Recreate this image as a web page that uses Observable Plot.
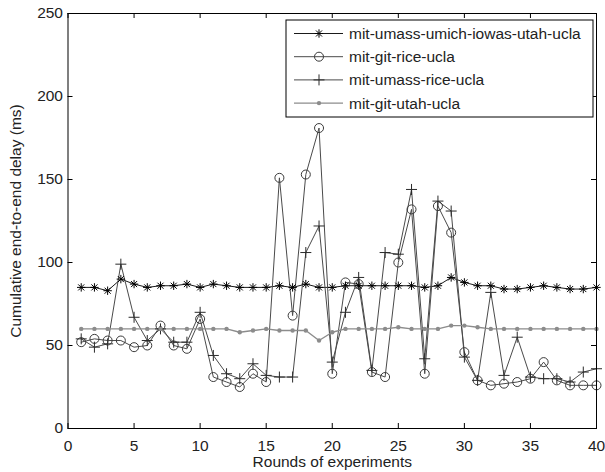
<!DOCTYPE html>
<html><head><meta charset="utf-8">
<script src="https://cdn.jsdelivr.net/npm/d3@7"></script>
<script src="https://cdn.jsdelivr.net/npm/@observablehq/plot@0.6"></script>
<style>
body{margin:0;background:#fff;}
#chart{width:605px;height:472px;}
</style></head><body><div id="chart"></div>
<script>
const rounds = d3.range(1, 41);
const seriesNames = ["mit-umass-umich-iowas-utah-ucla", "mit-git-rice-ucla", "mit-umass-rice-ucla", "mit-git-utah-ucla"];
const valsA = [85,85,83,90,87,85,86,86,87,85,87,86,85,85,85,86,85,87,85,85,86,86,86,86,86,86,85,86,91,88,86,86,84,84,85,86,85,84,84,85];
const valsB = [52,54,53,53,49,50,62,50,48,66,31,28,25,33,28,151,68,153,181,33,88,87,34,31,100,132,33,134,118,46,29,26,27,28,30,40,29,26,26,26];
const valsC = [54,49,51,99,67,53,60,52,52,70,44,33,30,39,32,31,31,106,122,40,70,91,35,106,105,144,42,137,131,43,29,82,32,55,31,30,30,28,34,36];
const valsD = [60,60,60,60,60,60,60,60,60,60,60,60,58,59,60,59,59,59,53,58,60,60,60,60,61,60,60,60,62,62,61,60,60,60,60,60,60,60,60,60];
const xTicks = [0,5,10,15,20,25,30,35,40];
const yTicks = [0,50,100,150,200,250];
const xLabel = "Rounds of experiments";
const yLabel = "Cumulative end-to-end delay (ms)";

const allVals = [valsA, valsB, valsC, valsD];
const rows = allVals.flatMap((vals, s) => vals.map((v, i) => ({series: seriesNames[s], round: rounds[i], value: v})));
const bySeries = name => rows.filter(d => d.series === name);

const W = 605, H = 472, mL = 67.5, mR = 9, mT = 13, mB = 44;
const innerW = W - mL - mR, innerH = H - mT - mB;
const font = "'Liberation Sans', Arial, sans-serif";
const fs = 15.5;

// marker symbols (pixel sizes are styles)
const plusSym = {draw(c){const r=5.5; c.moveTo(-r,0); c.lineTo(r,0); c.moveTo(0,-r); c.lineTo(0,r);}};
const starSym = {draw(c){const r=4.2, q=r*0.72; c.moveTo(-r,0); c.lineTo(r,0); c.moveTo(0,-r); c.lineTo(0,r); c.moveTo(-q,-q); c.lineTo(q,q); c.moveTo(-q,q); c.lineTo(q,-q);}};

const styles = [
  {stroke:"#1a1a1a", lw:1, marker: {symbol: starSym, stroke:"#000", fill:"none", r:4, strokeWidth:1}},
  {stroke:"#4a4a4a", lw:1, marker: {symbol: "circle", stroke:"#3a3a3a", fill:"none", r:4.5, strokeWidth:1}},
  {stroke:"#4a4a4a", lw:1, marker: {symbol: plusSym, stroke:"#2a2a2a", fill:"none", r:4, strokeWidth:1}},
  {stroke:"#8c8c8c", lw:1.4, marker: {symbol: "circle", stroke:"none", fill:"#8c8c8c", r:2.2, strokeWidth:0}}
];

const marks = [];
seriesNames.forEach((name, i) => {
  const st = styles[i];
  marks.push(Plot.line(bySeries(name), {x:"round", y:"value", stroke: st.stroke, strokeWidth: st.lw}));
});
seriesNames.forEach((name, i) => {
  const m = styles[i].marker;
  marks.push(Plot.dot(bySeries(name), {x:"round", y:"value", symbol: m.symbol, r: m.r, stroke: m.stroke, fill: m.fill, strokeWidth: m.strokeWidth}));
});

const chart = Plot.plot({
  width: W, height: H,
  marginLeft: mL, marginRight: mR, marginTop: mT, marginBottom: mB,
  style: {fontFamily: font, fontSize: fs + "px", color: "#222", background: "#fff"},
  x: {domain: [0, 40], ticks: xTicks},
  y: {domain: [0, 250], ticks: yTicks},
  marks: [
    ...marks,
    Plot.tickX(xTicks, {x: d => d, insetTop: innerH - 5, stroke: "#000"}),
    Plot.tickX(xTicks, {x: d => d, insetBottom: innerH - 5, stroke: "#000"}),
    Plot.tickY(yTicks, {y: d => d, insetRight: innerW - 5, stroke: "#000"}),
    Plot.tickY(yTicks, {y: d => d, insetLeft: innerW - 5, stroke: "#000"}),
    Plot.axisX(xTicks, {tickSize: 0, tickPadding: 11, label: null, fontSize: fs, fill: "#222"}),
    Plot.axisY(yTicks, {tickSize: 0, tickPadding: 5, label: null, fontSize: fs, fill: "#222"}),
    Plot.frame({stroke: "#000", strokeWidth: 1}),
    Plot.text([xLabel], {frameAnchor: "bottom", dy: 34, textAnchor: "middle", lineAnchor: "middle", fontSize: fs, fill: "#222"}),
    Plot.text([yLabel], {frameAnchor: "left", dx: -52, rotate: -90, textAnchor: "middle", lineAnchor: "middle", fontSize: fs, fill: "#222"})
  ]
});
document.getElementById("chart").append(chart);

// legend drawn into the plot svg
const svg = d3.select(chart);
const lg = svg.append("g").attr("font-family", font).attr("font-size", fs).attr("text-anchor", "start");
const box = {x: 286, y: 20, w: 307, h: 97};
lg.append("rect").attr("x", box.x).attr("y", box.y).attr("width", box.w).attr("height", box.h)
  .attr("fill", "#fff").attr("stroke", "#000").attr("stroke-width", 1);
seriesNames.forEach((name, i) => {
  const st = styles[i], m = st.marker;
  const cy = box.y + 13.5 + i * 23.2;
  lg.append("line").attr("x1", box.x + 8).attr("x2", box.x + 57).attr("y1", cy).attr("y2", cy)
    .attr("stroke", st.stroke).attr("stroke-width", st.lw);
  const s = typeof m.symbol === "string" ? d3.symbolCircle : m.symbol;
  lg.append("path").attr("transform", `translate(${box.x + 33},${cy})`)
    .attr("d", d3.symbol(s, Math.PI * m.r * m.r)())
    .attr("fill", m.fill).attr("stroke", m.stroke).attr("stroke-width", m.strokeWidth);
  lg.append("text").attr("x", box.x + 63).attr("y", cy).attr("dy", "0.35em").attr("text-anchor", "start").attr("fill", "#222").text(name);
});
</script></body></html>
